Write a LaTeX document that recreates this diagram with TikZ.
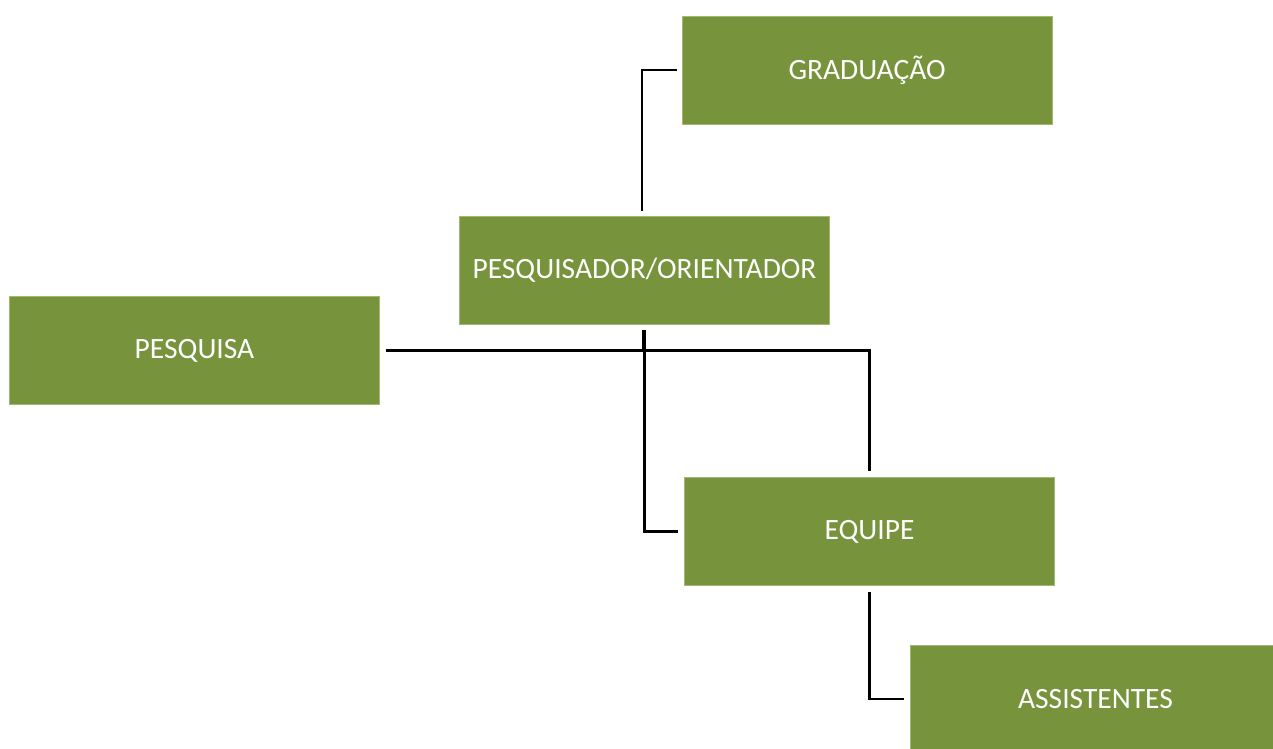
\documentclass[tikz,border=0pt]{standalone}
\usepackage{fontspec}
\setmainfont{Carlito}
\usepackage{tikz}
\usetikzlibrary{positioning,calc}
\definecolor{oliva}{RGB}{119,147,60}
\definecolor{borda}{RGB}{160,186,112}

\begin{document}
\begin{tikzpicture}[x=1pt,y=1pt,
  caixa/.style={fill=oliva,draw=borda,line width=0.8pt,minimum width=370pt,minimum height=108pt,inner sep=0pt,text=white,font=\fontsize{29.5}{35}\selectfont},
  liga/.style={line width=2.4pt}]

\useasboundingbox (0,0) rectangle (1273,748);
\clip (0,0) rectangle (1273,748);

\node[caixa] (grad) at (867,678) {GRADUAÇÃO};
\node[caixa] (orient) at (644.5,478) {PESQUISADOR/ORIENTADOR};
\node[caixa] (pesquisa) at (194.5,397.5) {PESQUISA};
\node[caixa] (equipe) at (869.5,216.5) {EQUIPE};
\node[caixa] (assist) at (1095.5,49) {ASSISTENTES};

\draw[liga] ([xshift=-2.5pt,yshift=5pt]orient.north) |- ([xshift=-5pt]grad.west);
\draw[liga] ([xshift=6pt]pesquisa.east) -| ([yshift=6pt]equipe.north);
\draw[liga] ([xshift=-1.5pt,yshift=-6pt]orient.south) -- ([xshift=-1.5pt,yshift=-26pt]orient.south);
\draw[liga] ([yshift=-6pt]orient.south) |- ([xshift=-6pt]equipe.west);
\draw[liga] ([yshift=-6pt]equipe.south) |- ([xshift=-6pt]assist.west);
\end{tikzpicture}
\end{document}
